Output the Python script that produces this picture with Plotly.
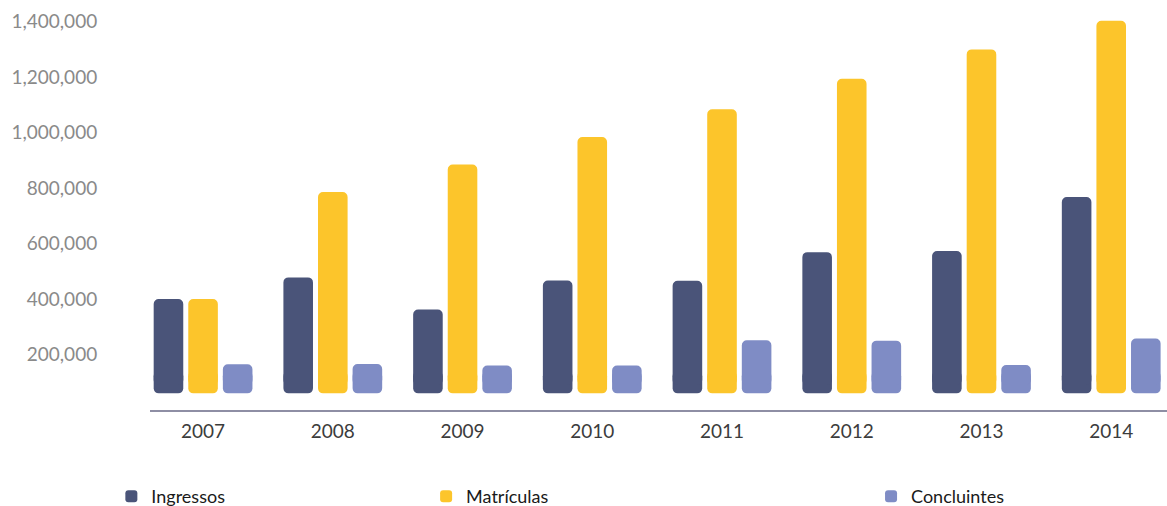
import plotly.graph_objects as go

years = ["2007", "2008", "2009", "2010", "2011", "2012", "2013", "2014"]
ingressos = [400000, 478000, 362000, 467000, 466000, 569000, 573000, 768000]
matriculas = [400000, 786000, 885000, 984000, 1084000, 1194000, 1300000, 1403000]
concluintes = [165000, 166000, 160000, 160000, 251000, 250000, 162000, 258000]
y_ticks = [200000, 400000, 600000, 800000, 1000000, 1200000, 1400000]

BAR_FLOOR = 60000   # bars float slightly above the axis line in the original
FOOT = 80000        # short bottom piece that carries the rounded lower corners
BODY_LIFT = 30000   # main body starts inside the foot so the seam is hidden

series = [
    ("Ingressos", ingressos, "#4a5479", "legend"),
    ("Matrículas", matriculas, "#fcc52b", "legend2"),
    ("Concluintes", concluintes, "#7f8cc5", "legend3"),
]

fig = go.Figure()
for name, vals, color, leg in series:
    # bottom piece (drawn first, rounded at its lower end)
    fig.add_bar(x=years, y=[-FOOT] * len(years), base=BAR_FLOOR + FOOT, name=name,
                marker=dict(color=color, line=dict(width=0)), offsetgroup=name,
                showlegend=False, legendgroup=name, hoverinfo="skip")
    # main body, overlapping the foot
    body_base = BAR_FLOOR + BODY_LIFT
    fig.add_bar(x=years, y=[v - body_base for v in vals], base=body_base, name=name,
                marker=dict(color=color, line=dict(width=0)), offsetgroup=name,
                legend=leg, legendgroup=name)

font_family = "Lato"
legend_common = dict(orientation="h", yanchor="middle", y=-0.214, xanchor="left",
                     bgcolor="rgba(0,0,0,0)",
                     font=dict(family=font_family, size=18, color="#1a1a1a"))

fig.update_layout(
    width=1167, height=506, showlegend=True,
    margin=dict(l=150, r=0, t=5, b=96, autoexpand=False),
    paper_bgcolor="white", plot_bgcolor="white",
    barmode="group", bargap=0.2, bargroupgap=0.145, barcornerradius=5,
    font=dict(family=font_family),
    xaxis=dict(type="category", range=[-0.409, 7.43], showgrid=False, zeroline=False,
               showline=True, linecolor="#8e8ea4", linewidth=2,
               ticks="outside", ticklen=3, tickcolor="rgba(0,0,0,0)",
               tickfont=dict(family=font_family, size=19, color="#3c3c3c")),
    yaxis=dict(range=[0, 1460000], tickvals=y_ticks, tickformat=",", showgrid=False,
               zeroline=False, showline=False, ticks="outside", ticklen=48,
               tickcolor="rgba(0,0,0,0)",
               tickfont=dict(family=font_family, size=19, color="#8a8a8a")),
    legend=dict(x=-0.038, **legend_common),
    legend2=dict(x=0.2715, **legend_common),
    legend3=dict(x=0.709, **legend_common),
)

fig.write_html("out.html")
